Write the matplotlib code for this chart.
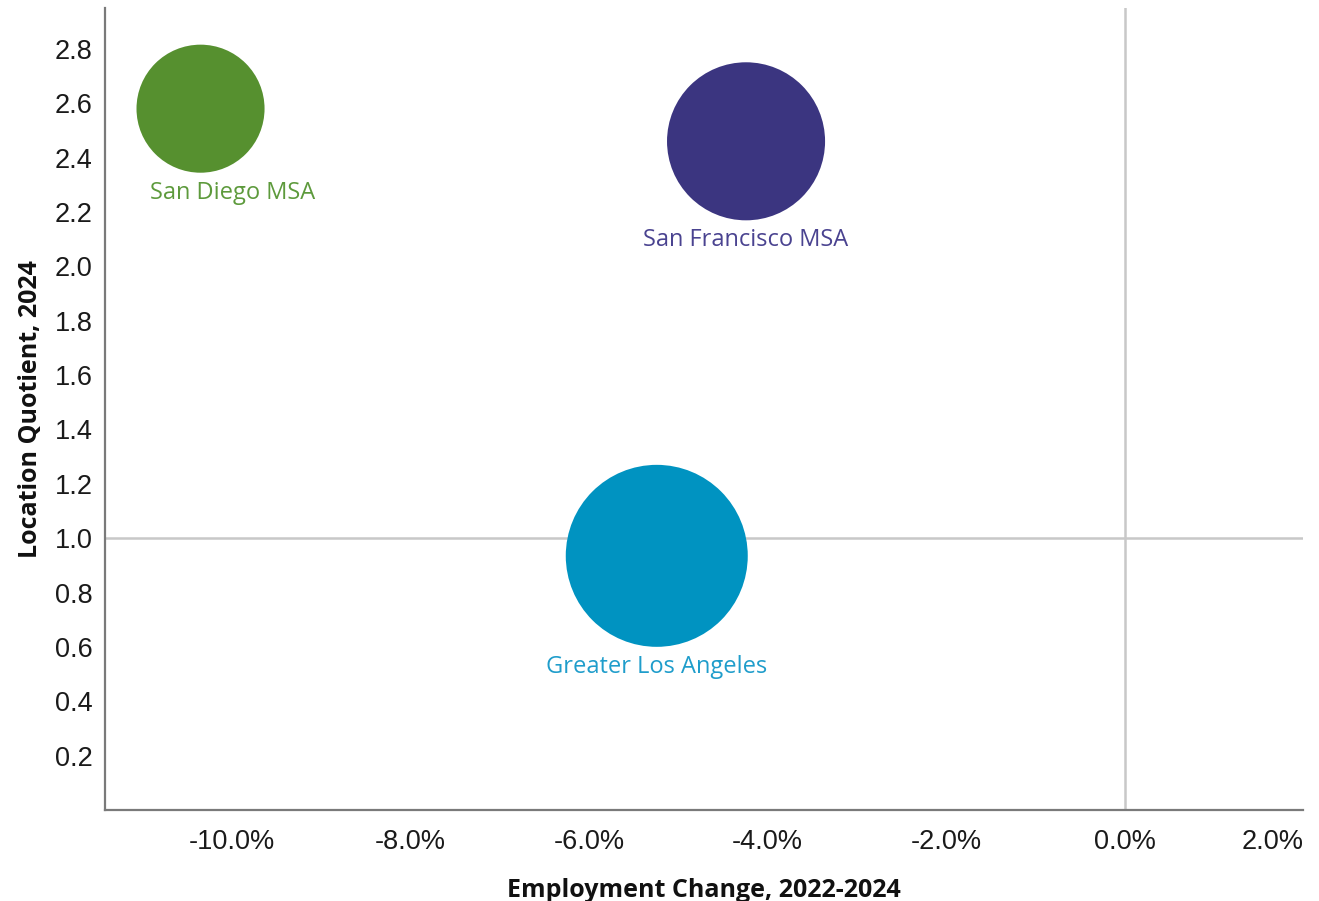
import matplotlib
matplotlib.use("Agg")
import matplotlib.pyplot as plt
import numpy as np
from matplotlib.ticker import FuncFormatter

regions = ["San Diego MSA", "San Francisco MSA", "Greater Los Angeles"]
emp_change = [-10.35, -4.24, -5.24]      # %, 2022-2024
loc_quotient = [2.58, 2.46, 0.935]       # 2024
bubble_area = [8500, 12950, 17170]       # marker area (pt^2)
colors = ["#56902f", "#3b3580", "#0093c1"]
label_colors = ["#5d9a3c", "#4a4390", "#1f9dcb"]

fig = plt.figure(figsize=(13.19, 9.01), dpi=100)
ax = fig.add_axes([0.0796, 0.101, 0.9084, 0.890])

ax.axhline(1.0, color="#c8c8c8", lw=1.8, zorder=1)
ax.axvline(0.0, color="#c8c8c8", lw=1.8, zorder=1)

ax.scatter(emp_change, loc_quotient, s=bubble_area, c=colors, edgecolors="none", zorder=3)

# labels under each bubble
label_dx = [32, 0, 0]
for i in range(len(regions)):
    r_pt = np.sqrt(bubble_area[i]) / 2
    ax.annotate(regions[i], xy=(emp_change[i], loc_quotient[i]),
                xytext=(label_dx[i] * 0.72, -r_pt - 14.5), textcoords="offset points",
                ha="center", va="center", fontsize=17, color=label_colors[i],
                family="Open Sans", zorder=4)

ax.set_xlim(-11.42, 2.0)
ax.set_ylim(0, 2.95)
ax.set_xticks([-10, -8, -6, -4, -2, 0, 2])
ax.set_yticks(np.arange(0.2, 2.81, 0.2))
ax.xaxis.set_major_formatter(FuncFormatter(lambda v, p: "%.1f%%" % v))
ax.yaxis.set_major_formatter(FuncFormatter(lambda v, p: "%.1f" % v))

for lab in ax.get_xticklabels() + ax.get_yticklabels():
    lab.set_family("Liberation Sans")
    lab.set_fontsize(19.5)
    lab.set_color("#1a1a1a")
ax.get_xticklabels()[-1].set_ha("right")

ax.tick_params(axis="both", length=0)
ax.tick_params(axis="x", pad=14)
ax.tick_params(axis="y", pad=9)

for s in ["top", "right"]:
    ax.spines[s].set_visible(False)
for s in ["left", "bottom"]:
    ax.spines[s].set_color("#7a7a7a")
    ax.spines[s].set_linewidth(1.6)

ax.set_xlabel("Employment Change, 2022-2024", fontsize=18, fontweight="bold",
              family="Open Sans", color="#111111", labelpad=16)
ax.set_ylabel("Location Quotient, 2024", fontsize=18, fontweight="bold",
              family="Open Sans", color="#111111", labelpad=8)

fig.savefig("out.png", dpi=100)
